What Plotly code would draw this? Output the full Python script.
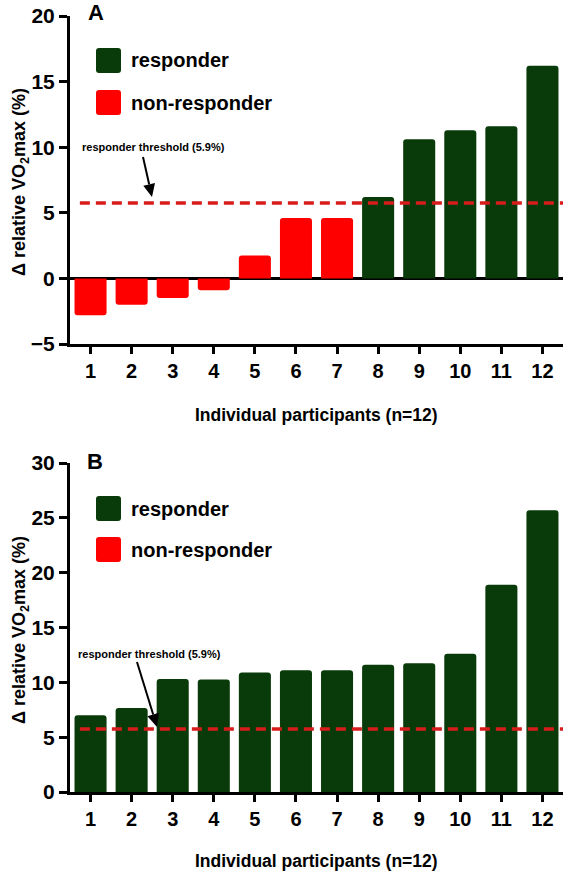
import math
import plotly.graph_objects as go

# ---------------- data ----------------
participants = [1, 2, 3, 4, 5, 6, 7, 8, 9, 10, 11, 12]
tick_labels = ["1", "2", "3", "4", "5", "6", "7", "8", "9", "10", "11", "12"]

delta_A = [-2.8, -2.0, -1.5, -0.9, 1.75, 4.6, 4.6, 6.2, 10.6, 11.3, 11.6, 16.2]
group_A = ["non-responder", "non-responder", "non-responder", "non-responder",
           "non-responder", "non-responder", "non-responder",
           "responder", "responder", "responder", "responder", "responder"]

delta_B = [7.0, 7.65, 10.3, 10.25, 10.9, 11.1, 11.1, 11.6, 11.75, 12.6, 18.9, 25.7]
group_B = ["responder"] * 12

threshold = 5.75          # drawn position of the dashed line
threshold_label = "responder threshold (5.9%)"

yticks_A = [-5, 0, 5, 10, 15, 20]
yticks_B = [0, 5, 10, 15, 20, 25, 30]

legend_labels = ["responder", "non-responder"]

# ---------------- styles ----------------
W, H = 567, 873
GREEN = "#093a09"
RED = "#ff0000"
DASH_RED = "#d81c1c"
FONT = "Liberation Sans, Arial, Helvetica, sans-serif"
colors = {"responder": GREEN, "non-responder": RED}


def px(x):
    return x / W


def py(y):
    return 1 - y / H


fig = go.Figure()

fig.add_trace(go.Bar(x=participants, y=delta_A, width=0.78,
                     marker=dict(color=[colors[g] for g in group_A], line=dict(width=0)),
                     xaxis="x", yaxis="y", showlegend=False))
fig.add_trace(go.Bar(x=participants, y=delta_B, width=0.78,
                     marker=dict(color=[colors[g] for g in group_B], line=dict(width=0)),
                     xaxis="x2", yaxis="y2", showlegend=False))

xdom = [px(70), px(563)]
x_common = dict(range=[participants[0] - 0.5, participants[-1] + 0.5],
                tickvals=participants, ticktext=tick_labels,
                showline=True, linewidth=3, linecolor="black",
                ticks="outside", ticklen=7, tickwidth=3, tickcolor="black",
                showgrid=False, zeroline=False, fixedrange=True, automargin=False,
                tickfont=dict(family=FONT, size=20, color="black", weight="bold"),
                domain=xdom)
y_common = dict(showline=True, linewidth=3, linecolor="black",
                ticks="outside", ticklen=8, tickwidth=3, tickcolor="black",
                showgrid=False, fixedrange=True, automargin=False,
                tickfont=dict(family=FONT, size=21, color="black", weight="bold"))

fig.update_layout(
    width=W, height=H,
    margin=dict(l=0, r=0, t=0, b=0, autoexpand=False),
    paper_bgcolor="white", plot_bgcolor="white",
    barcornerradius=3,
    xaxis=dict(**x_common, anchor="y"),
    yaxis=dict(**y_common, range=[yticks_A[0], yticks_A[-1]], tickvals=yticks_A,
               zeroline=True, zerolinewidth=3, zerolinecolor="black",
               domain=[py(344), py(16)], anchor="x"),
    xaxis2=dict(**x_common, anchor="y2"),
    yaxis2=dict(**y_common, range=[yticks_B[0], yticks_B[-1]], tickvals=yticks_B,
                zeroline=False, domain=[py(792), py(463)], anchor="x2"),
)

# threshold dashed lines
for yref in ["y", "y2"]:
    xr = "x domain" if yref == "y" else "x2 domain"
    fig.add_shape(type="line", xref=xr, yref=yref, x0=0.02, x1=1, y0=threshold, y1=threshold,
                  line=dict(color=DASH_RED, width=3.5, dash="10px,6px"), layer="above")

annos = []


def label(text, x, y, size, xanchor="center", angle=0):
    annos.append(dict(text=text, x=px(x), y=py(y), xref="paper", yref="paper",
                      xanchor=xanchor, yanchor="middle", textangle=angle, borderpad=0,
                      showarrow=False, font=dict(family=FONT, size=size, color="black")))


# panel letters
label("<b>A</b>", 96, 13, 22)
label("<b>B</b>", 95, 461, 22)

# axis titles
for cy in [182, 630]:
    label("<b>Δ relative VO<sub>2</sub>max (%)</b>", 20, cy, 18, angle=-90)
for cy in [415, 861]:
    label("<b>Individual participants (n=12)</b>", 316, cy, 17.5)

# threshold labels and arrows (line + filled head)
for (tx, ty, tipx, tipy, tailx, taily) in [(153, 147, 152, 197, 143, 157),
                                           (149, 654, 157, 727, 137, 662)]:
    label("<b>" + threshold_label + "</b>", tx, ty, 11)
    dx, dy = tipx - tailx, tipy - taily
    L = math.hypot(dx, dy)
    ux, uy = dx / L, dy / L
    hl, hw = 13, 6
    bx, by = tipx - ux * hl, tipy - uy * hl
    fig.add_shape(type="line", xref="paper", yref="paper",
                  x0=px(tailx), y0=py(taily), x1=px(bx), y1=py(by),
                  line=dict(color="black", width=2))
    p1 = (bx - uy * hw, by + ux * hw)
    p2 = (bx + uy * hw, by - ux * hw)
    fig.add_shape(type="path", xref="paper", yref="paper",
                  path=f"M{px(tipx)},{py(tipy)} L{px(p1[0])},{py(p1[1])} "
                       f"L{px(p2[0])},{py(p2[1])} Z",
                  fillcolor="black", line=dict(width=0))


# legends (rounded squares + labels)
def rounded_rect(x0, y0, x1, y1, r):
    X0, X1 = px(x0), px(x1)
    Y0, Y1 = py(y0), py(y1)
    rx, ry = r / W, r / H
    return (f"M{X0+rx},{Y0} L{X1-rx},{Y0} Q{X1},{Y0} {X1},{Y0-ry} "
            f"L{X1},{Y1+ry} Q{X1},{Y1} {X1-rx},{Y1} L{X0+rx},{Y1} "
            f"Q{X0},{Y1} {X0},{Y1+ry} L{X0},{Y0-ry} Q{X0},{Y0} {X0+rx},{Y0} Z")


for tops in [(48, 90), (496, 537)]:
    for lab, top in zip(legend_labels, tops):
        fig.add_shape(type="path", xref="paper", yref="paper",
                      path=rounded_rect(96, top, 121, top + 25, 3),
                      fillcolor=colors[lab], line=dict(width=0))
        label("<b>" + lab + "</b>", 130, top + 12.5, 20, xanchor="left")

fig.update_layout(annotations=annos)
fig.write_html("out.html", config={"displayModeBar": False},
               post_script="document.body.style.margin='0';")
